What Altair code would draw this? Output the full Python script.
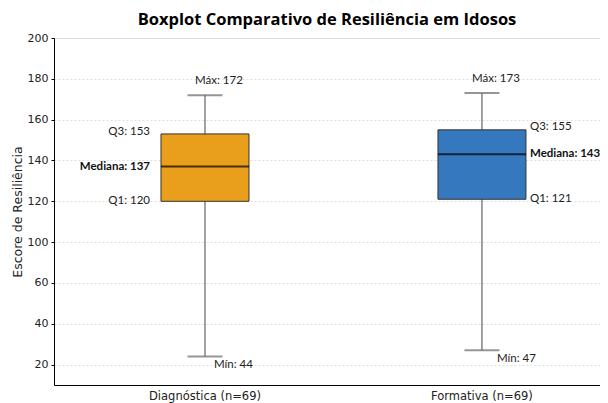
import altair as alt
import pandas as pd

categories = ["Diagnóstica (n=69)", "Formativa (n=69)"]
q1_vals = [120, 121]
median_vals = [137, 143]
q3_vals = [153, 155]
min_vals = [44, 47]
max_vals = [172, 173]
colors = ["#E99E1C", "#3578BE"]

tick_values = [40, 60, 80, 100, 120, 140, 160, 180, 200]
tick_labels = ["20", "40", "60", "100", "120", "140", "160", "180", "200"]

df = pd.DataFrame({
    "cat": categories,
    "q1": q1_vals,
    "median": median_vals,
    "q3": q3_vals,
    "min": min_vals,
    "max": max_vals,
})
df["max_label"] = [f"Máx: {v}" for v in max_vals]
df["min_label"] = [f"Mín: {v}" for v in min_vals]
df["q3_label"] = [f"Q3: {v}" for v in q3_vals]
df["q1_label"] = [f"Q1: {v}" for v in q1_vals]
df["med_label"] = [f"Mediana: {v}" for v in median_vals]

label_expr = ""
for v, l in zip(tick_values, tick_labels):
    label_expr += f"datum.value == {v} ? '{l}' : "
label_expr += "''"

xscale = alt.Scale(type="band", domain=categories, paddingInner=0.6823,
                   paddingOuter=0.3268, align=0.591)
yscale = alt.Scale(domain=[30, 200], nice=False, zero=False)

xaxis = alt.Axis(title=None, ticks=False, labelAngle=0, labelFont="DejaVu Sans",
                 labelFontSize=11.5, labelColor="#222", labelPadding=5,
                 domainColor="black", domainWidth=1, grid=False)
yaxis = alt.Axis(title="Escore de Resiliência", values=tick_values, labelExpr=label_expr,
                 labelFont="DejaVu Sans", labelFontSize=11, labelColor="#222",
                 titleFont="DejaVu Sans", titleFontSize=12.5, titleFontWeight="normal",
                 titleColor="#222", titlePadding=3, tickSize=3, tickColor="black",
                 domainColor="black", domainWidth=1, grid=True, gridColor="#d8d8d8",
                 gridDash=[2, 2], gridWidth=0.8, labelPadding=3)

base = alt.Chart(df).encode(
    x=alt.X("cat:N", scale=xscale, axis=xaxis, sort=categories)
)

whisker = base.mark_rule(color="#444", strokeWidth=1).encode(
    y=alt.Y("min:Q", scale=yscale, axis=yaxis), y2="max:Q")
box = base.mark_bar(stroke="#333", strokeWidth=1).encode(
    y="q1:Q", y2="q3:Q",
    color=alt.Color("cat:N", scale=alt.Scale(domain=categories, range=colors), legend=None))
median = base.mark_tick(color="black", size=88, thickness=2).encode(y="median:Q")
cap_max = base.mark_tick(color="#6a6a6a", size=35, thickness=2).encode(y="max:Q")
cap_min = base.mark_tick(color="#6a6a6a", size=35, thickness=2).encode(y="min:Q")

font = "Lato"
fs = 11.5
max_text = base.mark_text(font=font, fontSize=fs, dx=14, dy=-14, color="#222").encode(
    y="max:Q", text="max_label:N")

left = base.transform_filter(alt.datum.cat == categories[0])
right = base.transform_filter(alt.datum.cat == categories[1])

l_min = left.mark_text(font=font, fontSize=fs, align="left", dx=9, dy=9, color="#222").encode(
    y="min:Q", text="min_label:N")
r_min = right.mark_text(font=font, fontSize=fs, align="left", dx=15, dy=9, color="#222").encode(
    y="min:Q", text="min_label:N")
l_q3 = left.mark_text(font=font, fontSize=fs, align="right", dx=-55, dy=-2, color="#222").encode(
    y="q3:Q", text="q3_label:N")
l_med = left.mark_text(font=font, fontSize=fs, fontWeight="bold", align="right", dx=-55, color="#111").encode(
    y="median:Q", text="med_label:N")
l_q1 = left.mark_text(font=font, fontSize=fs, align="right", dx=-55, color="#222").encode(
    y="q1:Q", text="q1_label:N")
r_q3 = right.mark_text(font=font, fontSize=fs, align="left", dx=48, dy=-3, color="#222").encode(
    y="q3:Q", text="q3_label:N")
r_med = right.mark_text(font=font, fontSize=fs, fontWeight="bold", align="left", dx=48, color="#111").encode(
    y="median:Q", text="med_label:N")
r_q1 = right.mark_text(font=font, fontSize=fs, align="left", dx=48, color="#222").encode(
    y="q1:Q", text="q1_label:N")

chart = alt.layer(
    whisker, box, median, cap_max, cap_min, max_text, l_min, r_min,
    l_q3, l_med, l_q1, r_q3, r_med, r_q1
).properties(
    width=546, height=347,
    title=alt.TitleParams("Boxplot Comparativo de Resiliência em Idosos", font="Open Sans",
                          fontSize=16.5, fontWeight="bold", color="black", anchor="middle",
                          offset=4),
    autosize=alt.AutoSizeParams(type="none"),
    padding={"left": 46, "top": 30, "right": 0, "bottom": 18},
).configure_view(stroke=None).configure(background="white")

chart.save("out.html", embed_options={"renderer": "svg", "actions": False})
